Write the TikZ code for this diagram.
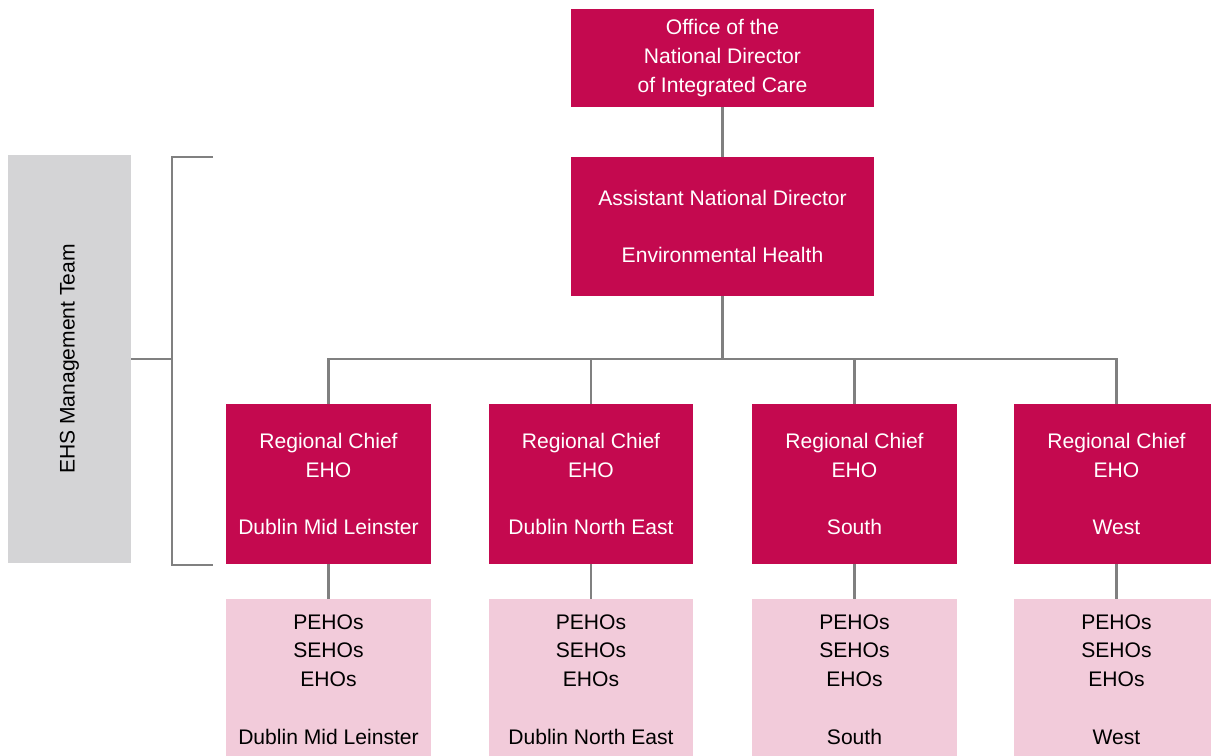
\documentclass[tikz,border=0pt]{standalone}
\usepackage{fontspec}
\setmainfont{Liberation Sans}
\definecolor{hsered}{HTML}{C4094F}
\definecolor{hsepink}{HTML}{F2CBDA}
\definecolor{hsegrey}{HTML}{D4D4D6}
\definecolor{linkgrey}{HTML}{808080}
\tikzset{
  redbox/.style={fill=hsered, text=white, align=center, inner sep=0pt,
    minimum width=4.1cm, minimum height=3.2cm},
  pinkbox/.style={fill=hsepink, text=black, align=center, inner sep=0pt,
    minimum width=4.1cm, minimum height=3.22cm},
  link/.style={draw=linkgrey, line width=1.6pt},
}
\begin{document}
\begin{tikzpicture}[x=0.02cm, y=-0.02cm, font={\fontsize{12}{16.4}\selectfont}]
  \useasboundingbox (0,0) rectangle (1211,755);
  % top of the chart
  \node[redbox, minimum width=6.06cm, minimum height=1.96cm] (ond) at (722.5,58)
    {Office of the\\National Director\\of Integrated Care};
  \node[redbox, minimum width=6.06cm, minimum height=2.78cm] (adn) at (722.5,226.5)
    {Assistant National Director\\[16.4pt]Environmental Health};
  \draw[link] (ond) -- (adn);
  % regions
  \node[redbox] (rc1) at (328.5,484) {Regional Chief\\EHO\\[16.4pt]Dublin Mid Leinster};
  \node[redbox] (rc2) at (591,484) {Regional Chief\\EHO\\[16.4pt]Dublin North East};
  \node[redbox] (rc3) at (854.5,484) {Regional Chief\\EHO\\[16.4pt]South};
  \node[redbox] (rc4) at (1116.5,484) {Regional Chief\\EHO\\[16.4pt]West};
  \node[pinkbox] (st1) at (328.5,679.5) {PEHOs\\SEHOs\\EHOs\\[16.4pt]Dublin Mid Leinster};
  \node[pinkbox] (st2) at (591,679.5) {PEHOs\\SEHOs\\EHOs\\[16.4pt]Dublin North East};
  \node[pinkbox] (st3) at (854.5,679.5) {PEHOs\\SEHOs\\EHOs\\[16.4pt]South};
  \node[pinkbox] (st4) at (1116.5,679.5) {PEHOs\\SEHOs\\EHOs\\[16.4pt]West};
  \coordinate (bus) at (722.5,359);
  \draw[link] (adn) -- (bus);
  \foreach \i in {1,...,4} {
    \draw[link] (bus) -| (rc\i.north);
    \draw[link] (rc\i) -- (st\i);
  }
  % management team bracket
  \node[fill=hsegrey, minimum width=2.46cm, minimum height=8.16cm, inner sep=0pt] (team) at (69.5,359) {};
  \node[rotate=90] (teamlabel) at (team.center) {EHS Management Team};
  \coordinate (brtop) at (213,157);
  \coordinate (brbot) at (213,565);
  \draw[link] (brtop) -- ++(-41,0) coordinate (brtl) -- (brtl |- brbot) -- (brbot);
  \draw[link] (team.east) -- (brtl |- team.east);
\end{tikzpicture}
\end{document}
